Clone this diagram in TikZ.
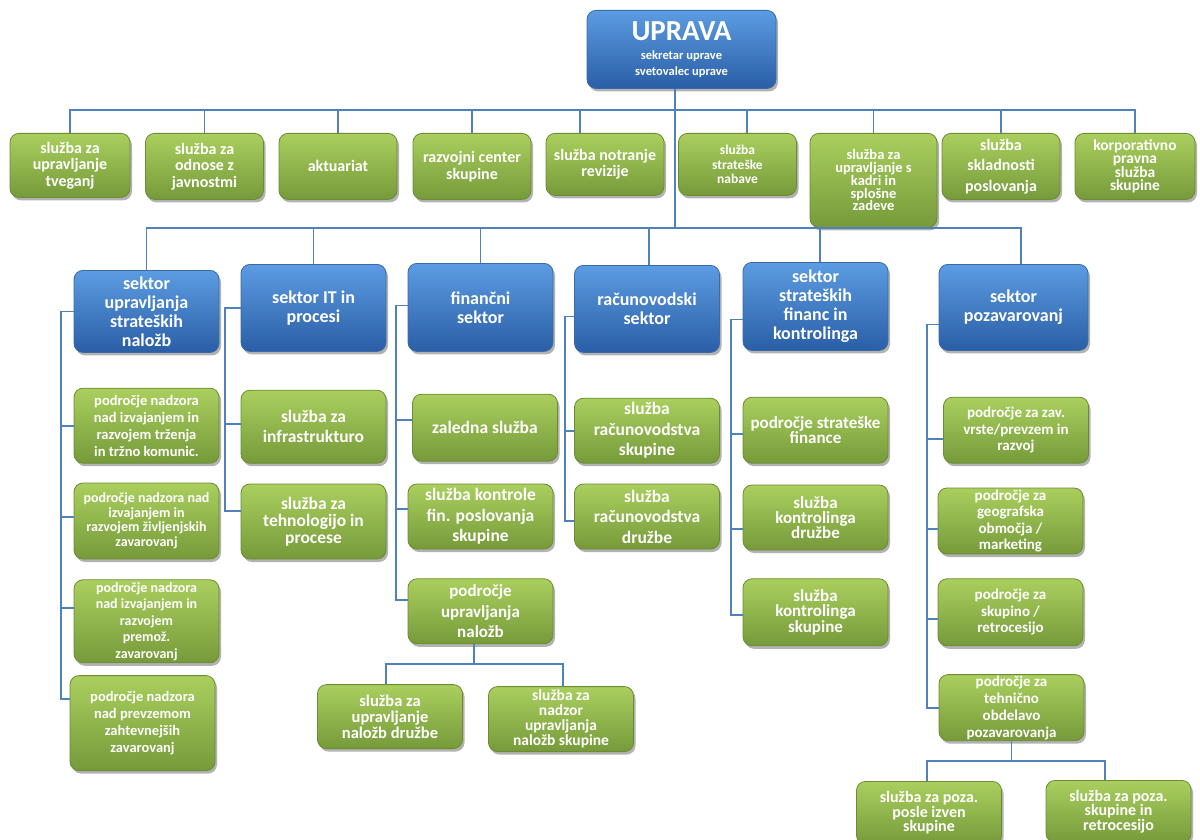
\documentclass[tikz,border=0pt]{standalone}
\usepackage{fontspec}
\setmainfont{Carlito}
\usetikzlibrary{positioning, shadows}
\definecolor{linkblue}{HTML}{4F81BD}
\definecolor{headtop}{HTML}{5C9CE2}
\definecolor{headbot}{HTML}{2A5EA6}
\definecolor{headedge}{HTML}{3A6AA5}
\definecolor{unittop}{HTML}{AACF5E}
\definecolor{unitbot}{HTML}{769A3A}
\definecolor{unitedge}{HTML}{6A8C33}

\begin{document}
\begin{tikzpicture}[
    x=1pt, y=1pt,
    txt/.style 2 args={font=\fontsize{#1}{#2}\selectfont\bfseries},
    box/.style={
      rectangle, rounded corners=9pt, align=center, anchor=north,
      inner sep=1pt, text=white, line width=0.8pt,
      drop shadow={shadow xshift=2pt, shadow yshift=-3pt,
        opacity=0.3, fill=black}
    },
    head/.style={
      box, draw=headedge, top color=headtop, bottom color=headbot,
      minimum width=145pt, minimum height=87pt, txt={18}{19}
    },
    unit/.style={
      box, draw=unitedge, top color=unittop, bottom color=unitbot,
      minimum width=145pt, minimum height=66pt
    },
    service/.style={
      unit, minimum width=118pt, minimum height=66pt, txt={16}{16.5}
    },
    link/.style={draw=linkblue, line width=1.8pt},
  ]

  \useasboundingbox (0,0) rectangle (1200,-840);

  % --- Top ---
  \node[head, minimum width=189pt, minimum height=78pt, txt={12.5}{16}]
    (uprava) at (681.5,-10)
    {{\fontsize{29}{29}\selectfont UPRAVA}\\[3pt]
     sekretar uprave\\ svetovalec uprave};

  % --- Staff services ---
  \node[service, minimum width=120pt, minimum height=64pt] (tveganja) at (70,-133)
    {služba za\\ upravljanje\\ tveganj};
  \node[service] (odnosi) at (204.5,-133)
    {služba za\\ odnose z\\ javnostmi};
  \node[service] (aktuariat) at (338,-133) {aktuariat};
  \node[service] (razvoj) at (472,-133)
    {razvojni center\\ skupine};
  \node[service, minimum height=62pt] (revizija) at (605,-133)
    {služba notranje\\ revizije};
  \node[service, minimum height=62pt, txt={13.5}{14.5}] (nabava) at (737.5,-133)
    {služba\\ strateške\\ nabave};
  \node[service, minimum width=127pt, minimum height=94pt, txt={14.5}{12.5}]
    (kadri) at (873.5,-133)
    {služba za\\ upravljanje s\\ kadri in\\ splošne\\ zadeve};
  \node[service, txt={16}{20.5}] (skladnost) at (1001,-133)
    {služba\\ skladnosti\\ poslovanja};
  \node[service, minimum width=120pt, txt={15.5}{13.5}] (pravna) at (1135,-133)
    {korporativno\\ pravna\\ služba\\ skupine};

  % --- Sectors ---
  \node[head, minimum height=82pt] (nalozbe) at (146.5,-270)
    {sektor\\ upravljanja\\ strateških\\ naložb};
  \node[head] (it) at (313.5,-264) {sektor IT in\\ procesi};
  \node[head, minimum height=88pt] (financni) at (480.5,-263)
    {finančni\\ sektor};
  \node[head] (racun) at (647,-265) {računovodski\\ sektor};
  \node[head, minimum height=88pt] (kontroling) at (815.5,-262)
    {sektor\\ strateških\\ financ in\\ kontrolinga};
  \node[head, minimum width=149pt, minimum height=86pt] (pozav) at (1013.5,-264)
    {sektor\\ pozavarovanj};

  % sektor upravljanja strateskih nalozb
  \node[unit, below=35pt of nalozbe, minimum height=75pt, txt={14.5}{17}] (trzenje)
    {področje nadzora\\ nad izvajanjem in\\ razvojem trženja\\ in tržno komunic.};
  \node[unit, below=19pt of trzenje, minimum height=76pt, txt={14}{14.5}] (zivljenje)
    {področje nadzora nad\\ izvajanjem in\\ razvojem življenjskih\\ zavarovanj};
  \node[unit, below=20pt of zivljenje, minimum height=83pt, txt={14}{16.5}] (premozenje)
    {področje nadzora\\ nad izvajanjem in\\ razvojem\\ premož.\\ zavarovanj};
  \node[unit, below=12pt of premozenje, xshift=-4pt, minimum height=95pt,
    txt={14.5}{17}] (zahtevna)
    {področje nadzora\\ nad prevzemom\\ zahtevnejših\\ zavarovanj};

  % sektor IT in procesi
  \node[unit, below=38pt of it, minimum height=73pt, txt={17.5}{20}] (infra)
    {služba za\\ infrastrukturo};
  \node[unit, below=20pt of infra, minimum height=75pt, txt={17.5}{17}] (tehno)
    {služba za\\ tehnologijo in\\ procese};

  % financni sektor
  \node[unit, below=42pt of financni, xshift=4.5pt, minimum height=67pt,
    txt={17.5}{20}] (zaledna) {zaledna služba};
  \node[unit, below=22pt of zaledna, xshift=-4.5pt, minimum height=65pt,
    txt={17.5}{20.5}] (kontrola)
    {služba kontrole\\ fin. poslovanja\\ skupine};
  \node[unit, below=29pt of kontrola, minimum height=65pt, txt={17}{20.5}] (upravnal)
    {področje\\ upravljanja\\ naložb};
  \node[unit, below=40pt of upravnal, xshift=-90.5pt, minimum height=64pt,
    txt={16.5}{16}] (upravdruzba)
    {služba za\\ upravljanje\\ naložb družbe};
  \node[unit, below=42pt of upravnal, xshift=80.5pt, minimum height=65pt,
    txt={15.5}{15}] (nadzorskup)
    {služba za\\ nadzor\\ upravljanja\\ naložb skupine};

  % racunovodski sektor
  \node[unit, below=45pt of racun, minimum height=65pt, txt={17.5}{20.5}] (racskup)
    {služba\\ računovodstva\\ skupine};
  \node[unit, below=20pt of racskup, minimum height=65pt, txt={17.5}{20.5}] (racdruzba)
    {služba\\ računovodstva\\ družbe};

  % sektor strateskih financ in kontrolinga
  \node[unit, below=46pt of kontroling, minimum height=66pt, txt={17}{15}] (stratfin)
    {področje strateške\\ finance};
  \node[unit, below=21pt of stratfin, minimum height=65pt, txt={17}{15}] (kontdruzba)
    {služba\\ kontrolinga\\ družbe};
  \node[unit, below=28pt of kontdruzba, minimum height=67pt, txt={17}{15.5}] (kontskup)
    {služba\\ kontrolinga\\ skupine};

  % sektor pozavarovanj
  \node[unit, below=46pt of pozav, xshift=2.5pt, minimum height=66pt,
    txt={15}{16.5}] (zavvrste)
    {področje za zav.\\ vrste/prevzem in\\ razvoj};
  \node[unit, below=24pt of zavvrste, xshift=-5.5pt, minimum height=66pt,
    txt={15}{16.5}] (geo)
    {področje za\\ geografska\\ območja /\\ marketing};
  \node[unit, below=24pt of geo, minimum height=67pt, txt={15}{16.5}] (retro)
    {področje za\\ skupino /\\ retrocesijo};
  \node[unit, below=28pt of retro, xshift=1pt, minimum height=66pt,
    txt={15}{17}] (tehnicno)
    {področje za\\ tehnično\\ obdelavo\\ pozavarovanja};
  \node[unit, below=40pt of tehnicno, xshift=-82.5pt, minimum height=63pt,
    txt={16}{14.5}] (pozaizven)
    {služba za poza.\\ posle izven\\ skupine};
  \node[unit, below=39pt of tehnicno, xshift=107pt, minimum height=62pt,
    txt={16}{14.5}] (pozaretro)
    {služba za poza.\\ skupine in\\ retrocesijo};

  % --- Connectors ---
  \coordinate (topbus) at (675,-110);
  \coordinate (midbus) at (675,-228);
  \draw[link] (uprava.south -| midbus) -- (midbus);

  \draw[link] (tveganja.north) |- (topbus) -| (pravna.north);
  \draw[link] (odnosi.north) -- (odnosi.north |- topbus);
  \draw[link] (aktuariat.north) -- (aktuariat.north |- topbus);
  \draw[link] (razvoj.north) -- (razvoj.north |- topbus);
  \draw[link] ([xshift=-25pt]revizija.north) -- ([xshift=-25pt]revizija.north |- topbus);
  \draw[link] ([xshift=9.5pt]nabava.north) -- ([xshift=9.5pt]nabava.north |- topbus);
  \draw[link] (kadri.north) -- (kadri.north |- topbus);
  \draw[link] (skladnost.north) -- (skladnost.north |- topbus);

  \draw[link] (nalozbe.north) |- (midbus) -| ([xshift=7.5pt]pozav.north);
  \draw[link] (it.north) -- (it.north |- midbus);
  \draw[link] (financni.north) -- (financni.north |- midbus);
  \draw[link] ([xshift=2pt]racun.north) -- ([xshift=2pt]racun.north |- midbus);
  \draw[link] ([xshift=4.5pt]kontroling.north) -- ([xshift=4.5pt]kontroling.north |- midbus);

  % rails on the left of each sector
  \coordinate (r1) at ([xshift=-13pt]nalozbe.west);
  \draw[link] (nalozbe.west) -- (r1) |- ([yshift=24.5pt]zahtevna.west);
  \draw[link] (r1 |- trzenje.west) -- (trzenje.west);
  \draw[link] ([yshift=4pt]zivljenje.west -| r1) -- ([yshift=4pt]zivljenje.west);
  \draw[link] ([yshift=13.5pt]premozenje.west -| r1) -- ([yshift=13.5pt]premozenje.west);

  \coordinate (r2) at ([xshift=-16pt]it.west);
  \draw[link] (it.west) -- (r2) |- ([yshift=10.5pt]tehno.west);
  \draw[link] ([yshift=3pt]infra.west -| r2) -- ([yshift=3pt]infra.west);

  \coordinate (r3) at ([xshift=-12pt, yshift=2pt]financni.west);
  \draw[link] ([yshift=2pt]financni.west) -- (r3) |- ([yshift=11.5pt]upravnal.west);
  \draw[link] ([yshift=7.5pt]zaledna.west -| r3) -- ([yshift=7.5pt]zaledna.west);
  \draw[link] ([yshift=7.5pt]kontrola.west -| r3) -- ([yshift=7.5pt]kontrola.west);

  \coordinate (r4) at ([xshift=-9pt, yshift=-7.5pt]racun.west);
  \draw[link] ([yshift=-7.5pt]racun.west) -- (r4) |- ([yshift=-4.5pt]racdruzba.west);
  \draw[link] (racskup.west -| r4) -- (racskup.west);

  \coordinate (r5) at ([xshift=-12pt, yshift=-13pt]kontroling.west);
  \draw[link] ([yshift=-13pt]kontroling.west) -- (r5) |- ([yshift=-2.5pt]kontskup.west);
  \draw[link] ([yshift=-4pt]stratfin.west -| r5) -- ([yshift=-4pt]stratfin.west);
  \draw[link] ([yshift=-11.5pt]kontdruzba.west -| r5) -- ([yshift=-11.5pt]kontdruzba.west);

  \coordinate (r6) at ([xshift=-12pt, yshift=-17pt]pozav.west);
  \draw[link] ([yshift=-17pt]pozav.west) -- (r6) |- (tehnicno.west);
  \draw[link] ([yshift=-9pt]zavvrste.west -| r6) -- ([yshift=-9pt]zavvrste.west);
  \draw[link] ([yshift=-8pt]geo.west -| r6) -- ([yshift=-8pt]geo.west);
  \draw[link] ([yshift=-6.5pt]retro.west -| r6) -- ([yshift=-6.5pt]retro.west);

  % lower branches
  \draw[link] ([xshift=-6.5pt]upravnal.south) -- ++(0,-20) coordinate (nbus);
  \draw[link] ([xshift=-4pt]upravdruzba.north) |- (nbus) -| ([xshift=2pt]nadzorskup.north);

  \draw[link] (tehnicno.south) -- ++(0,-20) coordinate (pbus);
  \draw[link] ([xshift=-2pt]pozaizven.north) |- (pbus) -| ([xshift=-13.5pt]pozaretro.north);

\end{tikzpicture}
\end{document}
